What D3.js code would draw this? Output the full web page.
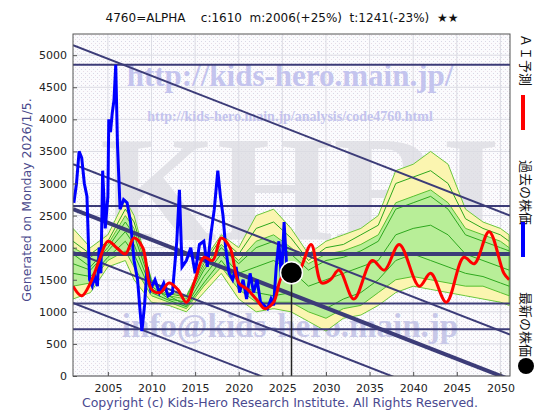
<!DOCTYPE html>
<html><head><meta charset="utf-8">
<script src="https://cdn.jsdelivr.net/npm/d3@7"></script>
<style>body{margin:0;background:#fff}svg{font-family:"DejaVu Sans",sans-serif}</style>
</head><body><div id="chart"></div>
<script>
var title = "4760=ALPHA    c:1610  m:2006(+25%)  t:1241(-23%)  ★★";
var xTicks = [2005, 2010, 2015, 2020, 2025, 2030, 2035, 2040, 2045, 2050];
var yTicks = [0, 500, 1000, 1500, 2000, 2500, 3000, 3500, 4000, 4500, 5000];

// past price (blue)
var pastYear = [2001.1,2001.4,2001.7,2002.0,2002.3,2002.6,2002.9,2003.2,2003.5,2003.8,2004.0,2004.2,2004.4,2004.7,2005.0,2005.1,2005.3,2005.5,2005.7,2005.9,2006.1,2006.4,2006.8,2007.2,2007.6,2008.0,2008.4,2008.7,2008.9,2009.2,2009.5,2009.9,2010.4,2010.9,2011.4,2011.9,2012.4,2012.9,2013.2,2013.5,2014.0,2014.5,2015.0,2015.5,2016.0,2016.4,2016.8,2017.2,2017.6,2017.9,2018.2,2018.5,2018.9,2019.3,2019.7,2020.1,2020.5,2020.9,2021.3,2021.7,2022.1,2022.5,2022.9,2023.3,2023.7,2024.0,2024.3,2024.6,2024.9,2025.2,2025.5,2025.8,2026.0];
var pastVal = [2700,3000,3500,3400,3000,2800,1500,1400,1550,1400,2000,1600,3200,2300,2800,4000,3800,4100,4300,4850,3600,2600,2750,2700,2400,1800,1500,1000,700,1100,1700,1350,1500,1300,1450,1250,1300,2100,2900,1700,1800,2000,1600,2050,2100,1700,2200,2600,3200,2800,2500,2000,1600,1500,1700,1300,1500,1200,1600,1300,1500,1150,1100,1050,1200,1100,1700,2100,1500,2400,1700,1600,1610];

// AI forecast (red)
var aiYear = [2001,2002,2003,2004,2005,2006,2007,2008,2009,2010,2011,2012,2013,2014,2015,2016,2017,2018,2019,2020,2021,2022,2023,2024,2025,2026,2027,2028.3,2029.5,2030.5,2031.5,2033.2,2035.3,2036.7,2038.4,2040.7,2042,2043.8,2045.8,2047,2048.7,2050.4,2051];
var aiVal = [1400,1250,1450,1800,2100,2000,1900,2150,2000,1350,1300,1450,1350,1150,1500,1850,1800,2150,2000,1450,1350,1200,1050,1150,1550,1500,1650,2050,1450,1500,1650,1200,1800,1650,2050,1400,1600,1150,1850,1750,2250,1600,1500];

// pattern band (yellow outer, green inner) and pattern lines
var bandYear = [2001,2003,2005,2007,2008,2010,2012,2014,2016,2018,2020,2022,2024,2026,2028,2030,2032,2034,2036,2038,2040,2042,2044,2046,2048,2050,2051];
var outerHi = [2300,2000,2200,2750,2500,1500,1300,1250,1800,2200,2000,2500,2600,2300,1900,2100,2200,2300,2500,3200,3300,3500,3300,2600,2400,2300,2200];
var outerLo = [1200,1300,1700,1800,1500,1150,1100,1000,1300,1600,1200,1000,1050,1000,850,700,900,950,1100,1300,1400,1350,1300,1250,1200,1150,1100];
var innerHi = [2000,1850,2050,2500,2300,1450,1250,1200,1700,2050,1800,2100,2200,2000,1750,1900,1950,2050,2200,2700,2800,2900,2700,2300,2200,2100,2000];
var innerLo = [1400,1450,1800,1950,1700,1250,1150,1050,1400,1700,1350,1150,1150,1150,1000,900,1050,1100,1300,1500,1550,1500,1450,1400,1400,1300,1250];
var pat1 = [1900,1700,2000,2400,2200,1400,1200,1150,1650,2000,1750,2000,2100,1900,1650,1800,1850,1950,2100,2600,2700,2800,2600,2200,2100,2000,1950];
var pat2 = [1600,1550,1850,2100,1900,1300,1180,1080,1450,1800,1450,1300,1250,1300,1150,1050,1200,1300,1500,1800,1900,1800,1700,1600,1550,1450,1400];
var pat3 = [1750,1650,1950,2250,2050,1350,1250,1100,1550,1900,1600,1700,1800,1650,1400,1500,1600,1700,1800,2200,2300,2350,2200,1900,1800,1700,1650];
var pat4 = [2100,1900,2100,2600,2400,1480,1280,1230,1750,2150,1900,2300,2400,2150,1800,2000,2050,2200,2350,3000,3100,3200,3000,2450,2300,2200,2100];

// support / resistance lines
var hLines = [4850, 2650, 1900, 1130, 730];
var hThick = [false, false, true, false, false];
var dStart = [5156, 3300, 2600, 1935, 1140]; // value at 2001, falling 53/yr
var dThick = [false, false, true, false, false];
var dSlope = -53;
var latest = {year: 2026.05, value: 1610};

var W = 560, H = 420;
var m = {left: 73, right: 50, top: 34, bottom: 44};
var svg = d3.select("#chart").append("svg").attr("width", W).attr("height", H);

var x = d3.scaleLinear().domain([2001, 2051.1]).range([m.left, W - m.right]);
var y = d3.scaleLinear().domain([0, 5330]).range([H - m.bottom, m.top]);

var defs = svg.append("defs");
var pat = defs.append("pattern").attr("id", "dots").attr("width", 4).attr("height", 4).attr("patternUnits", "userSpaceOnUse");
pat.append("rect").attr("width", 4).attr("height", 4).attr("fill", "#fbfbfd");
pat.append("rect").attr("x", 1).attr("y", 1).attr("width", 1).attr("height", 1).attr("fill", "#d8d8e6");
pat.append("rect").attr("x", 3).attr("y", 3).attr("width", 1).attr("height", 1).attr("fill", "#e8dce6");
var clip = defs.append("clipPath").attr("id", "clip");
clip.append("rect").attr("x", m.left).attr("y", m.top).attr("width", W - m.left - m.right).attr("height", H - m.top - m.bottom);

svg.append("rect").attr("x", m.left).attr("y", m.top).attr("width", W - m.left - m.right).attr("height", H - m.top - m.bottom).attr("fill", "url(#dots)");

// grid
var grid = svg.append("g");
xTicks.forEach(function(t) {
	grid.append("line").attr("x1", x(t)).attr("x2", x(t)).attr("y1", m.top).attr("y2", H - m.bottom).attr("stroke", "#dcdce4");
});
yTicks.forEach(function(t) {
	grid.append("line").attr("x1", m.left).attr("x2", W - m.right).attr("y1", y(t)).attr("y2", y(t)).attr("stroke", "#dcdce4");
});

// watermarks
var wm = svg.append("g").attr("font-family", "Liberation Serif, serif").attr("font-weight", "bold");
wm.append("text").attr("x", 300).attr("y", 240).attr("text-anchor", "middle").attr("font-size", 150).attr("fill", "#dcdce2").attr("opacity", 0.75).text("KHRI");
wm.append("text").attr("x", 290).attr("y", 86).attr("text-anchor", "middle").attr("font-size", 31).attr("fill", "#c4c4ee").text("http://kids-hero.main.jp/");
wm.append("text").attr("x", 290).attr("y", 121).attr("text-anchor", "middle").attr("font-size", 14).attr("fill", "#c4c4ee").text("http://kids-hero.main.jp/analysis/code4760.html");
wm.append("text").attr("x", 290).attr("y", 337).attr("text-anchor", "middle").attr("font-size", 33).attr("fill", "#c8c8e8").text("info@kids-hero.main.jp");

var plot = svg.append("g").attr("clip-path", "url(#clip)");

function band(hi, lo) {
	return d3.area().x((d, i) => x(bandYear[i])).y0((d, i) => y(lo[i])).y1((d, i) => y(hi[i]))(hi);
}
plot.append("path").attr("d", band(outerHi, outerLo)).attr("fill", "#fbf5b0").attr("stroke", "#6cc83c").attr("stroke-width", 1);
plot.append("path").attr("d", band(innerHi, innerLo)).attr("fill", "#b8ee98").attr("stroke", "#58c030").attr("stroke-width", 1);
var patLine = d3.line().x((d, i) => x(bandYear[i])).y(d => y(d));
[pat1, pat2, pat3, pat4].forEach(function(p) {
	plot.append("path").attr("d", patLine(p)).attr("fill", "none").attr("stroke", "#2ea81e").attr("stroke-width", 1);
});

// horizontal and diagonal lines
hLines.forEach(function(v, i) {
	plot.append("line").attr("x1", m.left).attr("x2", W - m.right).attr("y1", y(v)).attr("y2", y(v))
		.attr("stroke", "#3c3c78").attr("stroke-width", hThick[i] ? 4 : 2);
});
dStart.forEach(function(v, i) {
	plot.append("line").attr("x1", x(2001)).attr("y1", y(v)).attr("x2", x(2051.1)).attr("y2", y(v + dSlope * 50.1))
		.attr("stroke", "#3c3c78").attr("stroke-width", dThick[i] ? 4 : 2);
});

// past price
plot.append("path").attr("d", d3.line().x((d, i) => x(pastYear[i])).y(d => y(d))(pastVal))
	.attr("fill", "none").attr("stroke", "#0000ff").attr("stroke-width", 3);
// AI forecast
plot.append("path").attr("d", d3.line().curve(d3.curveCatmullRom).x((d, i) => x(aiYear[i])).y(d => y(d))(aiVal))
	.attr("fill", "none").attr("stroke", "#ff0000").attr("stroke-width", 3);

// latest
plot.append("line").attr("x1", x(latest.year)).attr("x2", x(latest.year)).attr("y1", y(latest.value)).attr("y2", H - m.bottom).attr("stroke", "#222").attr("stroke-width", 1.5);
plot.append("circle").attr("cx", x(latest.year)).attr("cy", y(latest.value)).attr("r", 11).attr("fill", "#000").attr("stroke", "#fff").attr("stroke-width", 1.5);

// frame + axes
svg.append("rect").attr("x", m.left).attr("y", m.top).attr("width", W - m.left - m.right).attr("height", H - m.top - m.bottom).attr("fill", "none").attr("stroke", "#555");
var yAxis = svg.append("g").attr("transform", `translate(${m.left},0)`).call(d3.axisLeft(y).tickValues(yTicks).tickFormat(d3.format("d")).tickSize(-4).tickPadding(6));
var xAxis = svg.append("g").attr("transform", `translate(0,${H - m.bottom})`).call(d3.axisBottom(x).tickValues(xTicks).tickFormat(d3.format("d")).tickSize(-4).tickPadding(8));
[yAxis, xAxis].forEach(function(a) {
	a.select(".domain").remove();
	a.selectAll("text").attr("font-size", 11).attr("fill", "#222").attr("font-family", "DejaVu Sans, sans-serif");
	a.selectAll("line").attr("stroke", "#555");
});

// texts
svg.append("text").attr("x", 282).attr("y", 22).attr("text-anchor", "middle").attr("font-size", 12).attr("fill", "#111").attr("xml:space", "preserve").text(title);
svg.append("text").attr("transform", "translate(31,200) rotate(-90)").attr("text-anchor", "middle").attr("font-size", 12.5).attr("fill", "#4a4a8c").text("Generated on Monday 2026/1/5.");
svg.append("text").attr("x", 280).attr("y", 407).attr("text-anchor", "middle").attr("font-size", 12.5).attr("fill", "#4a4a90").text("Copyright (c) Kids-Hero Research Institute. All Rights Reserved.");

// legend
var lg = svg.append("g").attr("font-family", "Noto Sans CJK JP, sans-serif").attr("font-size", 13).attr("fill", "#111");
lg.append("text").attr("transform", "translate(521,34) rotate(90)").text("ＡＩ予測");
lg.append("rect").attr("x", 521).attr("y", 95).attr("width", 4).attr("height", 35).attr("fill", "#ff0000");
lg.append("text").attr("transform", "translate(521,160) rotate(90)").text("過去の株価");
lg.append("rect").attr("x", 521).attr("y", 222).attr("width", 4).attr("height", 35).attr("fill", "#0000ff");
lg.append("text").attr("transform", "translate(521,292) rotate(90)").text("最新の株価");
lg.append("circle").attr("cx", 526).attr("cy", 366).attr("r", 8).attr("fill", "#000");
</script></body></html>
